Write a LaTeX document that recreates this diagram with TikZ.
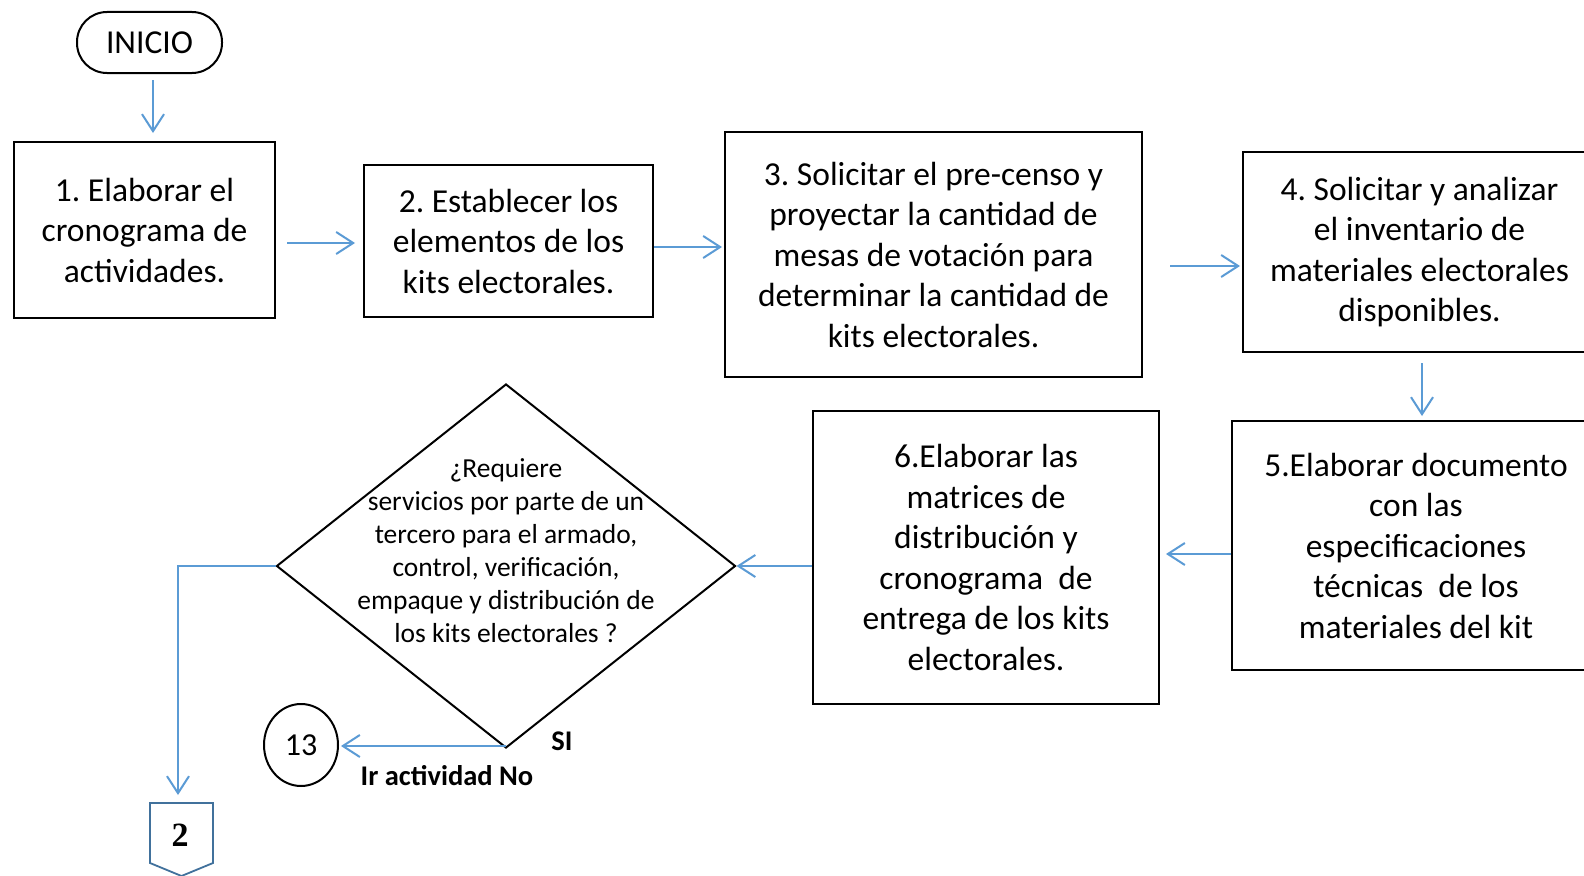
\documentclass[tikz,border=0pt]{standalone}
\usepackage{fontspec}
\setmainfont{Carlito}
\newfontfamily\serifbold{Liberation Serif}
\usetikzlibrary{arrows.meta,shapes.geometric}
\definecolor{arrblue}{RGB}{91,155,213}
\definecolor{offblue}{RGB}{65,113,156}
\frenchspacing
\begin{document}
\begin{tikzpicture}[x=1pt,y=-1pt,
  stepbox/.style={draw=black,line width=2pt,rectangle,inner sep=0pt,align=center,font=\fontsize{33.5}{40.5}\selectfont},
  arr/.style={draw=arrblue,line width=2pt,-{Straight Barb[length=17pt,width=22pt]}},
  lbl/.style={font=\bfseries\fontsize{28.5}{28.5}\selectfont,inner sep=0pt}
]
\useasboundingbox (0,0) rectangle (1584,875);
\fill[white] (0,0) rectangle (1584,875);

\node[draw=black,line width=2pt,rounded corners=30pt,minimum width=145pt,minimum height=61pt,inner sep=0pt,font=\fontsize{33.5}{33.5}\selectfont] (inicio) at (149.5,42.5) {INICIO};

\node[stepbox,minimum width=261pt,minimum height=176pt] (b1) at (144.5,230) {1. Elaborar el\\cronograma de\\actividades.};
\node[stepbox,minimum width=289pt,minimum height=152pt] (b2) at (508.5,241) {2. Establecer los\\elementos de los\\kits electorales.};
\node[stepbox,minimum width=417pt,minimum height=245pt] (b3) at (933.5,254.5) {3. Solicitar el pre-censo y\\proyectar la cantidad de\\mesas de votación para\\determinar la cantidad de\\kits electorales.};
\node[stepbox,minimum width=353pt,minimum height=200pt] (b4) at (1419.5,252) {4. Solicitar y analizar\\el inventario de\\materiales electorales\\disponibles.};
\node[stepbox,minimum width=368pt,minimum height=249pt] (b5) at (1416,545.5) {5.Elaborar documento\\con las\\especificaciones\\técnicas\ \ de los\\materiales del kit};
\node[stepbox,minimum width=346pt,minimum height=293pt] (b6) at (986,557.5) {6.Elaborar las\\matrices de\\distribución y\\cronograma\ \ de\\entrega de los kits\\electorales.};

\node[draw=black,line width=2pt,diamond,minimum width=459pt,minimum height=364pt,inner sep=0pt] (d) at (506,566) {};
\node[align=center,inner sep=0pt,font=\fontsize{27.5}{33}\selectfont] (dq) at (506,551) {¿Requiere\\servicios por parte de un\\tercero para el armado,\\control, verificación,\\empaque y distribución de\\los kits electorales ?};

\node[draw=black,line width=2pt,ellipse,minimum width=74pt,minimum height=82pt,inner sep=0pt,font=\fontsize{32}{32}\selectfont] (c13) at (301,745) {13};

\draw[offblue,line width=1.8pt] (150,803) -- (213,803) -- (213,863) -- (181.5,876) -- (150,863) -- cycle;
\node[inner sep=0pt,font=\serifbold\bfseries\fontsize{34}{34}\selectfont] (two) at (180,835) {2};
\coordinate (offtop) at (178,803);

\node[lbl] (si) at (562,741) {SI};
\node[lbl] (nolbl) at (447,776) {Ir actividad No};

\draw[arr,shorten <=6pt,shorten >=8pt] ([xshift=3.5pt]inicio.south) -- ([xshift=3.5pt]inicio.south |- b1.north);
\draw[arr,shorten <=11pt,shorten >=8pt] ([yshift=-13pt]b1.east) -- ([yshift=-13pt]b1.east -| b2.west);
\draw[arr,shorten >=2pt] ([yshift=-6pt]b2.east) -- ([yshift=-6pt]b2.east -| b3.west);
\draw[arr,shorten <=27pt,shorten >=2pt] ([yshift=-11.5pt]b3.east) -- ([yshift=-11.5pt]b3.east -| b4.west);
\draw[arr,shorten <=10pt,shorten >=4pt] ([xshift=2.5pt]b4.south) -- ([xshift=2.5pt]b4.south |- b5.north);
\draw[arr,shorten >=6pt] ([yshift=-8.5pt]b5.west) -- ([yshift=-8.5pt]b5.west -| b6.east);
\draw[arr] ([yshift=-8.5pt]b6.west) -- (d.east);
\draw[arr,shorten >=2pt] ([yshift=3pt]d.south) -- ([yshift=3pt]d.south -| c13.east);
\draw[arr,shorten >=8pt] (d.west) -| (offtop);
\end{tikzpicture}
\end{document}
